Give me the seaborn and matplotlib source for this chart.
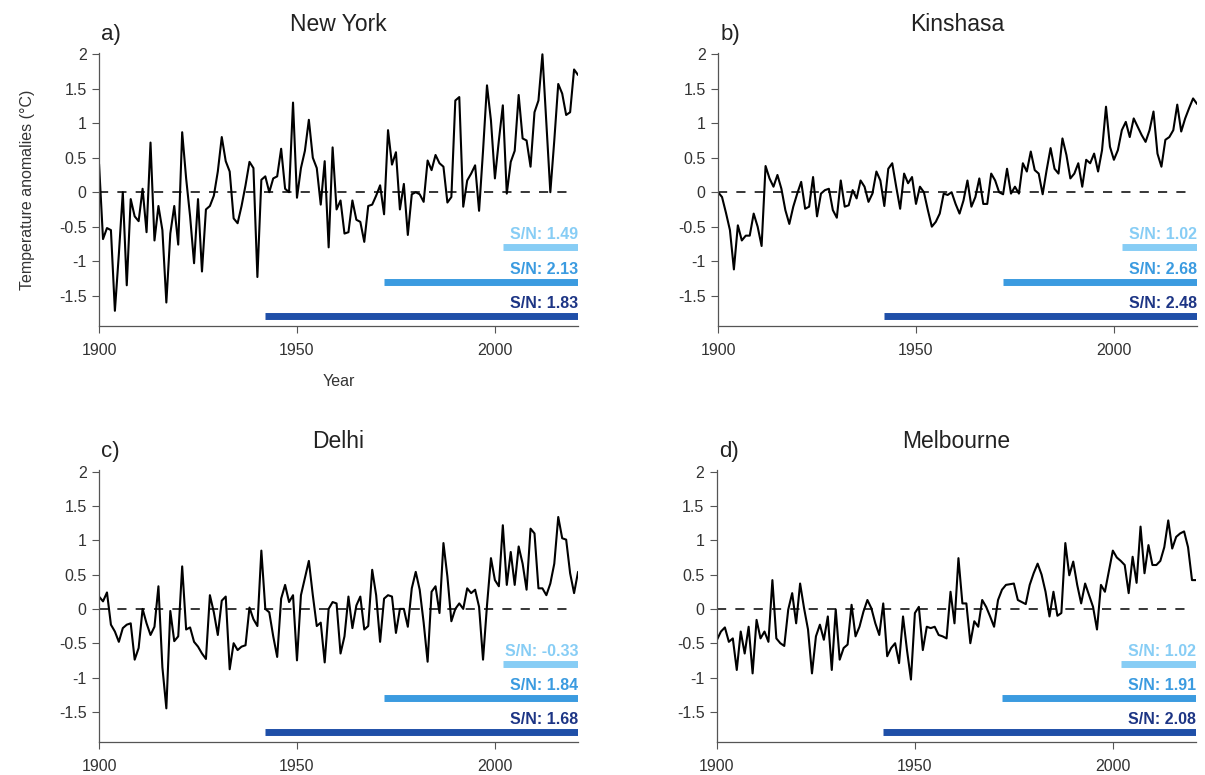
import numpy as np
import pandas as pd
import matplotlib
matplotlib.use("Agg")
import matplotlib.pyplot as plt
import seaborn as sns

years = list(range(1900, 2022))

new_york = [0.41, -0.68, -0.52, -0.55, -1.72, -0.9, 0.0, -1.35, -0.1, -0.35,
            -0.42, 0.05, -0.58, 0.72, -0.7, -0.2, -0.55, -1.6, -0.6, -0.2,
            -0.76, 0.87, 0.2, -0.35, -1.03, -0.1, -1.15, -0.25, -0.2, -0.05,
            0.3, 0.8, 0.45, 0.3, -0.38, -0.45, -0.2, 0.1, 0.44, 0.35,
            -1.23, 0.18, 0.23, 0.0, 0.2, 0.23, 0.63, 0.05, 0.0, 1.3,
            -0.08, 0.35, 0.6, 1.05, 0.5, 0.35, -0.18, 0.45, -0.8, 0.65,
            -0.25, -0.12, -0.6, -0.58, -0.12, -0.4, -0.43, -0.72, -0.2, -0.18,
            -0.05, 0.1, -0.32, 0.9, 0.4, 0.58, -0.25, 0.12, -0.62, -0.03,
            0.0, -0.03, -0.14, 0.46, 0.32, 0.54, 0.42, 0.37, -0.15, -0.07,
            1.33, 1.38, -0.21, 0.17, 0.27, 0.39, -0.27, 0.6, 1.55, 1.04,
            0.2, 0.75, 1.26, -0.02, 0.44, 0.6, 1.41, 0.78, 0.75, 0.37,
            1.16, 1.33, 2.0, 1.0, 0.0, 0.75, 1.57, 1.43, 1.12, 1.16,
            1.78, 1.7]

kinshasa = [0.0, -0.07, -0.3, -0.55, -1.12, -0.48, -0.7, -0.63, -0.63, -0.31,
            -0.5, -0.78, 0.38, 0.2, 0.08, 0.25, 0.05, -0.26, -0.46, -0.21,
            -0.02, 0.15, -0.24, -0.21, 0.22, -0.35, -0.02, 0.03, 0.05, -0.26,
            -0.37, 0.17, -0.21, -0.19, 0.03, -0.09, 0.17, 0.08, -0.14, -0.02,
            0.3, 0.17, -0.2, 0.34, 0.42, 0.08, -0.24, 0.27, 0.13, 0.22,
            -0.17, 0.08, 0.0, -0.26, -0.5, -0.43, -0.31, -0.02, -0.04, 0.0,
            -0.17, -0.31, -0.12, 0.17, -0.21, -0.07, 0.2, -0.17, -0.17, 0.27,
            0.17, 0.0, -0.03, 0.34, -0.02, 0.08, -0.02, 0.42, 0.3, 0.59,
            0.32, 0.27, -0.03, 0.32, 0.64, 0.34, 0.27, 0.78, 0.54, 0.2,
            0.27, 0.42, 0.08, 0.47, 0.42, 0.56, 0.3, 0.61, 1.24, 0.66,
            0.47, 0.61, 0.9, 1.02, 0.8, 1.07, 0.95, 0.83, 0.73, 0.9,
            1.17, 0.56, 0.37, 0.76, 0.8, 0.9, 1.27, 0.88, 1.07, 1.22,
            1.36, 1.28]

delhi = [0.18, 0.11, 0.24, -0.23, -0.33, -0.48, -0.28, -0.23, -0.21, -0.74,
         -0.57, 0.0, -0.21, -0.38, -0.26, 0.33, -0.85, -1.45, -0.03, -0.47,
         -0.4, 0.62, -0.3, -0.27, -0.48, -0.55, -0.65, -0.73, 0.2, -0.05,
         -0.38, 0.12, 0.18, -0.88, -0.5, -0.6, -0.55, -0.53, 0.02, -0.15,
         -0.25, 0.85, 0.0, -0.05, -0.4, -0.7, 0.15, 0.35, 0.1, 0.2,
         -0.75, 0.2, 0.45, 0.7, 0.2, -0.25, -0.2, -0.78, 0.0, 0.1,
         0.08, -0.65, -0.4, 0.18, -0.28, 0.05, 0.18, -0.3, -0.25, 0.57,
         0.2, -0.48, 0.15, 0.2, 0.18, -0.35, 0.0, 0.0, -0.26, 0.3,
         0.54, 0.28, -0.2, -0.77, 0.25, 0.33, -0.06, 0.96, 0.47, -0.18,
         0.0, 0.08, 0.0, 0.3, 0.23, 0.28, 0.03, -0.74, 0.05, 0.74,
         0.42, 0.33, 1.22, 0.35, 0.83, 0.35, 0.91, 0.66, 0.28, 1.17,
         1.1, 0.3, 0.3, 0.2, 0.37, 0.66, 1.34, 1.03, 1.01, 0.52,
         0.23, 0.54]

melbourne = [-0.45, -0.33, -0.27, -0.48, -0.43, -0.89, -0.33, -0.65, -0.26, -0.94,
             -0.16, -0.43, -0.33, -0.48, 0.42, -0.43, -0.5, -0.54, -0.01, 0.23,
             -0.21, 0.37, 0.01, -0.3, -0.94, -0.4, -0.23, -0.45, -0.11, -0.89,
             -0.01, -0.74, -0.57, -0.52, 0.06, -0.4, -0.26, -0.04, 0.13, 0.01,
             -0.21, -0.38, 0.08, -0.69, -0.57, -0.5, -0.79, -0.11, -0.6, -1.03,
             -0.06, 0.03, -0.6, -0.26, -0.28, -0.26, -0.38, -0.4, -0.43, 0.25,
             -0.21, 0.74, 0.08, 0.08, -0.5, -0.18, -0.26, 0.13, 0.03, -0.11,
             -0.26, 0.13, 0.28, 0.35, 0.36, 0.37, 0.13, 0.1, 0.07, 0.35,
             0.52, 0.66, 0.5, 0.25, -0.11, 0.25, -0.1, -0.06, 0.96, 0.49,
             0.69, 0.35, 0.08, 0.37, 0.2, 0.03, -0.3, 0.35, 0.25, 0.55,
             0.85, 0.75, 0.7, 0.64, 0.23, 0.76, 0.38, 1.2, 0.52, 0.93,
             0.64, 0.64, 0.7, 0.9, 1.29, 0.88, 1.05, 1.1, 1.13, 0.9,
             0.42, 0.42]

cities = ["New York", "Kinshasa", "Delhi", "Melbourne"]
letters = ["a)", "b)", "c)", "d)"]

# S/N ratios for the last 20, 50 and 80 years
sn_new_york = [1.49, 2.13, 1.83]
sn_kinshasa = [1.02, 2.68, 2.48]
sn_delhi = [-0.33, 1.84, 1.68]
sn_melbourne = [1.02, 1.91, 2.08]
window_starts = [2002, 1972, 1942]
bar_levels = [-0.8, -1.3, -1.8]

series = [new_york, kinshasa, delhi, melbourne]
sn_all = [sn_new_york, sn_kinshasa, sn_delhi, sn_melbourne]

bar_colors = ["#87cdf5", "#3b9be0", "#1f4fa8"]
text_colors = ["#87cdf5", "#3b9be0", "#1d3585"]

sns.set_style("ticks")
plt.rcParams["font.family"] = ["Liberation Sans", "DejaVu Sans"]

fig = plt.figure(figsize=(12.05, 7.75), dpi=100)
positions = [
    [0.0822, 0.5794, 0.3975, 0.3523],
    [0.5959, 0.5794, 0.3975, 0.3523],
    [0.0822, 0.0426, 0.3975, 0.3505],
    [0.5950, 0.0426, 0.3975, 0.3505],
]

for i in range(4):
    ax = fig.add_axes(positions[i])
    df = pd.DataFrame({"Year": years, "Anomaly": series[i]})
    sns.lineplot(data=df, x="Year", y="Anomaly", ax=ax, color="black", lw=1.5)
    ax.plot([1900, 2020], [0, 0], color="black", lw=1.1, ls=(0, (6, 6)))

    for k in range(3):
        ax.hlines(bar_levels[k], window_starts[k], 2021, color=bar_colors[k], lw=5)
        ax.text(2021, bar_levels[k] + 0.12, f"S/N: {sn_all[i][k]:.2f}",
                color=text_colors[k], ha="right", va="baseline",
                fontsize=11.5, fontweight="bold")

    ax.set_xlim(1900, 2021)
    ax.set_ylim(-1.94, 2.02)
    ax.set_xticks([1900, 1950, 2000])
    ax.set_yticks([-1.5, -1, -0.5, 0, 0.5, 1, 1.5, 2])
    ax.set_yticklabels(["-1.5", "-1", "-0.5", "0", "0.5", "1", "1.5", "2"])
    ax.tick_params(direction="out", length=5, width=0.8, color="#555555",
                   labelcolor="#333333", labelsize=11.5, pad=4)
    ax.tick_params(axis="x", pad=7)
    for s in ["top", "right"]:
        ax.spines[s].set_visible(False)
    for s in ["left", "bottom"]:
        ax.spines[s].set_color("#555555")
        ax.spines[s].set_linewidth(0.9)

    ax.set_title(cities[i], fontsize=16.5, color="#222222", pad=16)
    ax.text(0.005, 1.03, letters[i], transform=ax.transAxes, fontsize=16,
            color="#222222", ha="left", va="bottom")

    if i == 0:
        ax.set_xlabel("Year", fontsize=11.5, color="#333333", labelpad=12)
        ax.set_ylabel("Temperature anomalies (°C)", fontsize=11.5,
                      color="#333333", labelpad=17)
    else:
        ax.set_xlabel("")
        ax.set_ylabel("")

fig.savefig("out.png", dpi=100)
